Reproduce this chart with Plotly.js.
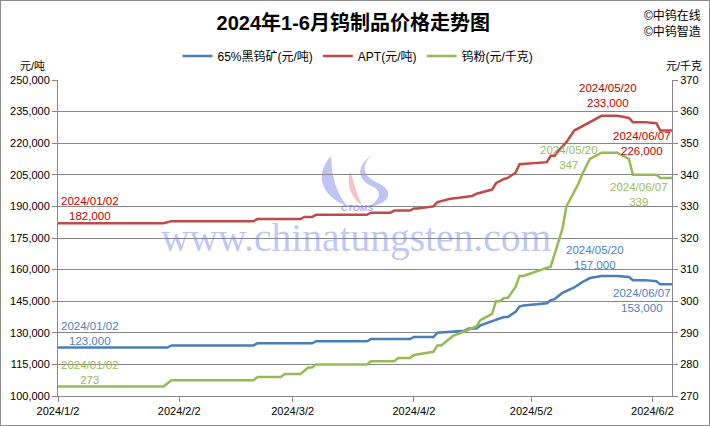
<!DOCTYPE html>
<html>
<head>
<meta charset="utf-8">
<script src="https://cdn.plot.ly/plotly-3.0.1.min.js"></script>
<style>
  html, body { margin: 0; padding: 0; background: #fff; }
  #chart { width: 708px; height: 424px; border: 1px solid #8c8c8c; }
</style>
</head>
<body>
<div id="chart"></div>
<script>
// ---------- data ----------
const concDates = ['2024-01-02','2024-01-30','2024-01-31','2024-02-21','2024-02-22','2024-03-07','2024-03-08',
  '2024-03-21','2024-03-22','2024-04-01','2024-04-02','2024-04-07','2024-04-08','2024-04-12','2024-04-15',
  '2024-04-16','2024-04-18','2024-04-19','2024-04-22','2024-04-24','2024-04-25','2024-04-26','2024-04-28',
  '2024-04-29','2024-04-30','2024-05-06','2024-05-07','2024-05-08','2024-05-10','2024-05-13','2024-05-15',
  '2024-05-17','2024-05-20','2024-05-24','2024-05-27','2024-05-28','2024-05-31','2024-06-03','2024-06-04',
  '2024-06-07'];
const concPrice = [123000,123000,124000,124000,125000,125000,126000,
  126000,127000,127000,128000,128000,130000,130500,131000,
  132000,132000,133500,135500,136500,137500,137500,140000,
  142500,143000,144000,145500,146000,149000,151500,154000,
  156000,157000,157000,156500,155000,155000,154500,153000,
  153000];

const aptDates = ['2024-01-02','2024-01-29','2024-01-31','2024-02-21','2024-02-22','2024-03-04','2024-03-05',
  '2024-03-07','2024-03-08','2024-03-21','2024-03-22','2024-03-27','2024-03-28','2024-04-01','2024-04-02',
  '2024-04-03','2024-04-07','2024-04-08','2024-04-09','2024-04-11','2024-04-15','2024-04-17','2024-04-18',
  '2024-04-22','2024-04-23','2024-04-25','2024-04-26','2024-04-28','2024-04-29','2024-05-06','2024-05-07',
  '2024-05-08','2024-05-09','2024-05-11','2024-05-13','2024-05-15','2024-05-16','2024-05-17','2024-05-20',
  '2024-05-24','2024-05-27','2024-05-28','2024-05-31','2024-06-03','2024-06-04','2024-06-07'];
const aptPrice = [182000,182000,183000,183000,184000,184000,185000,
  185000,186000,186000,187000,187000,188000,188000,189000,
  189000,190000,192000,192500,193500,194500,195000,196000,
  198000,201000,203000,203500,206000,210000,211000,214000,
  214000,216500,220500,226000,228000,229000,230000,233000,
  233000,232000,230000,230000,229500,226000,226000];

const powDates = ['2024-01-02','2024-01-29','2024-01-31','2024-02-21','2024-02-22','2024-02-28','2024-02-29',
  '2024-03-04','2024-03-05','2024-03-06','2024-03-07','2024-03-08','2024-03-21','2024-03-22','2024-03-28',
  '2024-03-29','2024-04-01','2024-04-02','2024-04-07','2024-04-08','2024-04-09','2024-04-12','2024-04-15',
  '2024-04-17','2024-04-18','2024-04-19','2024-04-22','2024-04-23','2024-04-24','2024-04-25','2024-04-26',
  '2024-04-28','2024-04-29','2024-04-30','2024-05-06','2024-05-07','2024-05-08','2024-05-09','2024-05-10',
  '2024-05-11','2024-05-14','2024-05-15','2024-05-17','2024-05-20','2024-05-24','2024-05-27','2024-05-28',
  '2024-06-03','2024-06-04','2024-06-07'];
const powPrice = [273,273,275,275,276,276,277,
  277,278,279,279,280,280,281,281,
  282,282,283,284,286,286,289,290.5,
  291.5,292,294,296,300,300,301,301,
  304.5,308,308,310.5,311,315,319,323,
  330,337,340,345,347,347,345,340,
  340,339,339];

const seriesNames = ['65%黑钨矿(元/吨)', 'APT(元/吨)', '钨粉(元/千克)'];
const tickDates = ['2024-01-02','2024-02-02','2024-03-02','2024-04-02','2024-05-02','2024-06-02'];
const tickLabels = ['2024/1/2','2024/2/2','2024/3/2','2024/4/2','2024/5/2','2024/6/2'];
const titleText = '2024年1-6月钨制品价格走势图';
const leftUnit = '元/吨';
const rightUnit = '元/千克';
const credits = ['©中钨在线', '©中钨智造'];
const watermark = 'www.chinatungsten.com';
const logoText = 'CTOMS';

// ---------- styling ----------
const FONT = 'Liberation Sans, Noto Sans CJK SC, sans-serif';
const C_BLUE = '#4a7ebb', C_RED = '#be4b48', C_GREEN = '#98b954';
const T_BLUE = '#4f81bd', T_RED = '#c00000', T_GREEN = '#9bbb59';
const GRID = '#878787';
const WM_BLUE = 'rgba(105,115,232,0.42)', WM_PINK = 'rgba(240,120,135,0.45)';

const traces = [
  {x: concDates, y: concPrice, name: seriesNames[0], type: 'scatter', mode: 'lines',
   line: {color: C_BLUE, width: 2.5}, yaxis: 'y', hoverinfo: 'skip'},
  {x: aptDates, y: aptPrice, name: seriesNames[1], type: 'scatter', mode: 'lines',
   line: {color: C_RED, width: 2.5}, yaxis: 'y', hoverinfo: 'skip'},
  {x: powDates, y: powPrice, name: seriesNames[2], type: 'scatter', mode: 'lines',
   line: {color: C_GREEN, width: 2.5}, yaxis: 'y2', hoverinfo: 'skip'}
];

function fmtDate(d) { return d.replace(/-/g, '/'); }
function fmtNum(v) { return v.toLocaleString('en-US'); }
function label(dates, vals, date, yref, color, dx, dy) {
  const i = dates.indexOf(date);
  return {x: dates[i], y: vals[i], xref: 'x', yref: yref,
    text: fmtDate(dates[i]) + '<br>' + fmtNum(vals[i]),
    showarrow: false, xanchor: 'center', yanchor: 'middle', align: 'center',
    xshift: dx, yshift: dy, font: {family: FONT, size: 11.5, color: color}};
}
// page pixel -> paper coordinates (plot area: x 58..672, y 80..396)
const PX = x => (x - 58) / 614;
const PY = y => 1 - (y - 80) / 316;
function paperPath(cmds) {
  return cmds.map(c => {
    const L = c[0]; const nums = [];
    for (let k = 1; k < c.length; k += 2) nums.push(PX(c[k]).toFixed(5) + ',' + PY(c[k + 1]).toFixed(5));
    return L + ' ' + nums.join(' ');
  }).join(' ') + ' Z';
}

// decorative watermark logo (background)
const shapes = [
  {type: 'path', xref: 'paper', yref: 'paper', layer: 'below', line: {width: 0}, fillcolor: WM_BLUE,
   path: paperPath([['M', 331, 156], ['C', 314, 175, 321, 196, 347, 206], ['C', 336, 192, 332, 178, 331, 156]])},
  {type: 'path', xref: 'paper', yref: 'paper', layer: 'below', line: {width: 0}, fillcolor: WM_PINK,
   path: paperPath([['M', 350, 171], ['C', 346, 186, 352, 199, 362, 205], ['C', 357, 195, 355, 185, 350, 171]])},
  {type: 'path', xref: 'paper', yref: 'paper', layer: 'below', line: {width: 0}, fillcolor: WM_BLUE,
   path: paperPath([['M', 372, 155], ['C', 358, 168, 366, 178, 380, 184], ['C', 394, 191, 390, 204, 369, 207],
                    ['C', 381, 198, 383, 191, 371, 186], ['C', 357, 179, 356, 166, 372, 155]])}
];

const annotations = [
  // watermark text
  {text: watermark, xref: 'paper', yref: 'paper', x: PX(356), y: PY(238),
   showarrow: false, xanchor: 'center', yanchor: 'middle',
   font: {family: 'Liberation Serif, serif', size: 39.5, color: WM_BLUE}},
  {text: '<b><i>' + logoText + '</i></b>', xref: 'paper', yref: 'paper', x: PX(357), y: PY(208),
   showarrow: false, xanchor: 'center', yanchor: 'middle',
   font: {family: FONT, size: 9, color: 'rgba(105,115,232,0.6)'}},
  // unit labels
  {text: leftUnit, xref: 'paper', yref: 'paper', x: PX(32), y: PY(66),
   showarrow: false, xanchor: 'center', yanchor: 'middle', font: {family: FONT, size: 11, color: '#000'}},
  {text: rightUnit, xref: 'paper', yref: 'paper', x: PX(684.5), y: PY(66),
   showarrow: false, xanchor: 'center', yanchor: 'middle', font: {family: FONT, size: 11, color: '#000'}},
  // credits
  {text: credits[0], xref: 'paper', yref: 'paper', x: PX(703), y: PY(15),
   showarrow: false, xanchor: 'right', yanchor: 'middle', font: {family: FONT, size: 12, color: '#000'}},
  {text: credits[1], xref: 'paper', yref: 'paper', x: PX(703), y: PY(31.7),
   showarrow: false, xanchor: 'right', yanchor: 'middle', font: {family: FONT, size: 12, color: '#000'}},
  // data labels
  label(aptDates, aptPrice, '2024-01-02', 'y', T_RED, 31.8, 15.1),
  label(aptDates, aptPrice, '2024-05-20', 'y', T_RED, 6.8, 20.2),
  label(aptDates, aptPrice, '2024-06-07', 'y', T_RED, -30.5, -13),
  label(powDates, powPrice, '2024-01-02', 'y2', T_GREEN, 32, 13.9),
  label(powDates, powPrice, '2024-05-20', 'y2', T_GREEN, -32.9, -5.1),
  label(powDates, powPrice, '2024-06-07', 'y2', T_GREEN, -32.8, -16.3),
  label(concDates, concPrice, '2024-01-02', 'y', T_BLUE, 31.8, 14.2),
  label(concDates, concPrice, '2024-05-20', 'y', T_BLUE, -6.3, 18.5),
  label(concDates, concPrice, '2024-06-07', 'y', T_BLUE, -30.3, -16.2)
];

const axisFont = {family: FONT, size: 11, color: '#000'};
const layout = {
  width: 708, height: 424,
  margin: {l: 57, r: 37, t: 79, b: 29, pad: 0},
  paper_bgcolor: '#fff', plot_bgcolor: 'rgba(0,0,0,0)',
  font: {family: FONT},
  title: {text: '<b>' + titleText + '</b>', x: 352.3 / 708, xref: 'container', xanchor: 'center',
          y: 1 - 22.3 / 424, yanchor: 'middle', font: {family: FONT, size: 20, color: '#000'}},
  showlegend: true,
  legend: {orientation: 'h', x: PX(358), xanchor: 'center', y: 1 + (79 - 55) / 316, yanchor: 'middle',
           font: {family: FONT, size: 12, color: '#000'}, bgcolor: 'rgba(0,0,0,0)', itemwidth: 30},
  xaxis: {type: 'date', range: [concDates[0], concDates[concDates.length - 1]],
          tickmode: 'array', tickvals: tickDates, ticktext: tickLabels,
          ticks: 'outside', ticklen: 5, tickcolor: GRID, showline: true, linecolor: GRID, linewidth: 1,
          showgrid: false, zeroline: false, tickfont: axisFont, fixedrange: true},
  yaxis: {range: [100000, 250000], tick0: 100000, dtick: 15000, tickformat: ',d',
          showgrid: true, gridcolor: GRID, gridwidth: 1, zeroline: false,
          showline: true, linecolor: GRID, linewidth: 1, ticks: 'outside', ticklen: 5, tickcolor: GRID,
          tickfont: axisFont, fixedrange: true},
  yaxis2: {range: [270, 370], tick0: 270, dtick: 10, overlaying: 'y', side: 'right',
           showgrid: false, zeroline: false, showline: true, linecolor: GRID, linewidth: 1,
           ticks: 'outside', ticklen: 5, tickcolor: GRID, tickfont: axisFont, fixedrange: true},
  shapes: shapes,
  annotations: annotations
};

Plotly.newPlot('chart', traces, layout, {displayModeBar: false, staticPlot: true});
</script>
</body>
</html>
